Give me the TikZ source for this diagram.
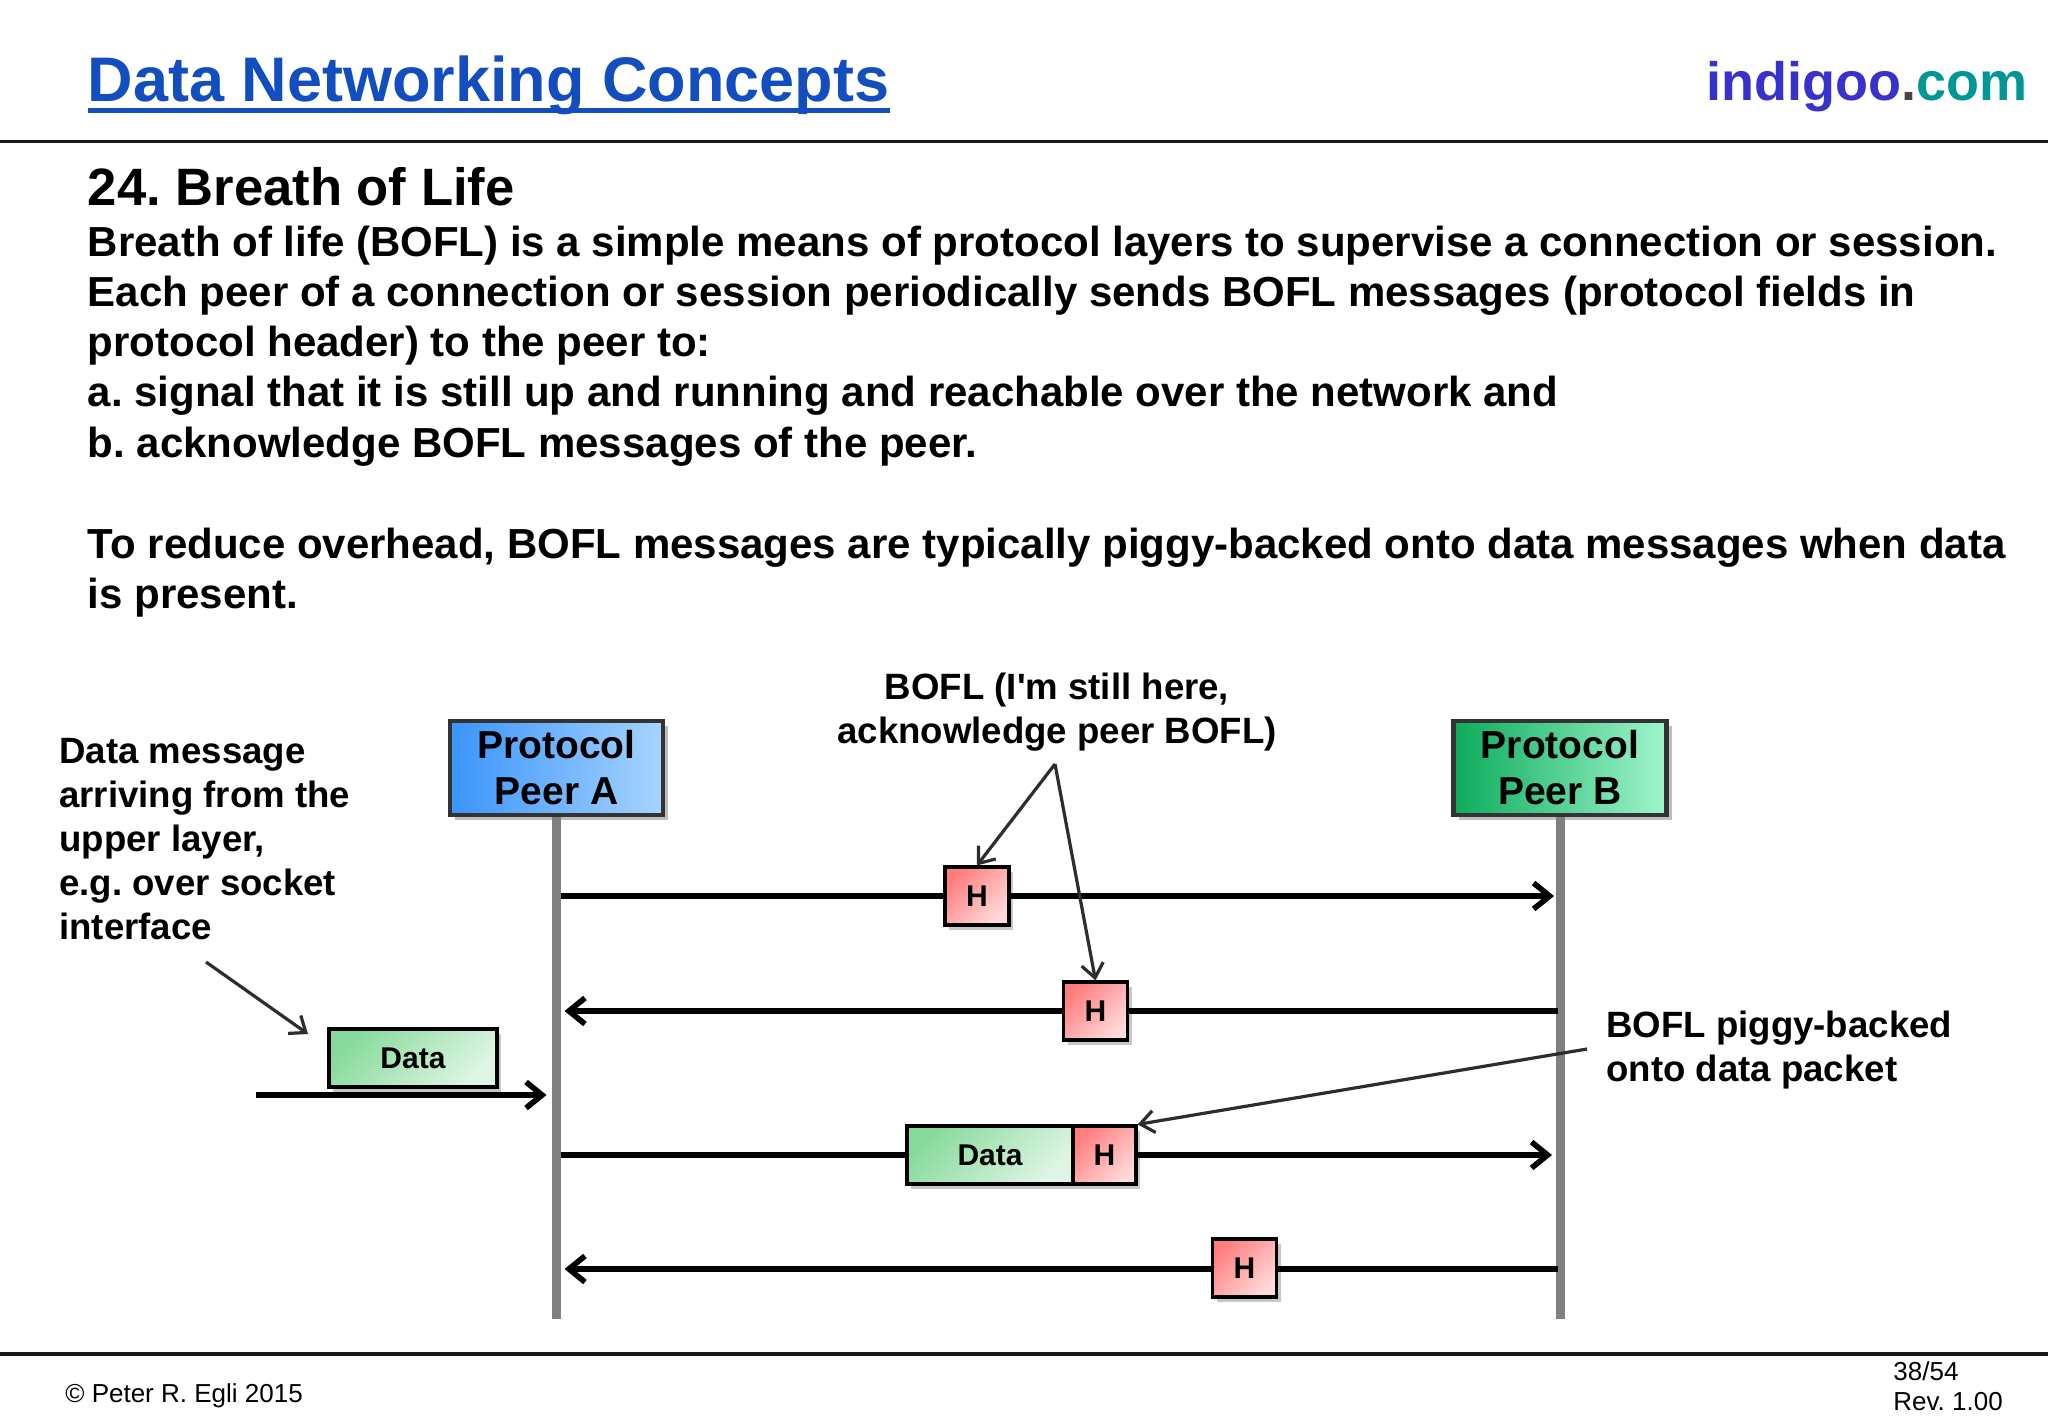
\documentclass[tikz,border=0pt]{standalone}
\usepackage{fontspec}
\setmainfont{Liberation Sans}
\usetikzlibrary{arrows.meta,shadows}
\frenchspacing

\definecolor{titleblue}{RGB}{18,78,192}
\definecolor{logoindigo}{RGB}{55,50,205}
\definecolor{logodot}{RGB}{70,70,70}
\definecolor{logoteal}{RGB}{0,150,150}
\definecolor{peerborder}{RGB}{51,51,51}
\definecolor{blueA}{RGB}{58,148,250}
\definecolor{blueM}{RGB}{72,156,252}
\definecolor{blueB}{RGB}{168,212,255}
\definecolor{greenA}{RGB}{12,172,92}
\definecolor{greenM}{RGB}{28,186,112}
\definecolor{greenB}{RGB}{160,245,205}
\definecolor{pinkA}{RGB}{255,125,125}
\definecolor{pinkB}{RGB}{255,218,218}
\definecolor{dataA}{RGB}{136,218,155}
\definecolor{dataB}{RGB}{222,245,228}
\definecolor{lifegray}{RGB}{128,128,128}
\definecolor{pointgray}{RGB}{45,45,45}

\tikzset{
  txt/.style={inner sep=0pt, anchor=base west},
  bodytext/.style={txt, font=\fontsize{21}{25}\selectfont\bfseries},
  peer/.style={draw=peerborder, line width=2.2pt, minimum width=106.5pt, minimum height=47pt,
    inner sep=0pt, align=center, font=\fontsize{19.5}{23}\selectfont\bfseries,
    drop shadow={shadow xshift=2.5pt, shadow yshift=-2.5pt, fill=black, opacity=0.25}},
  peerA/.style={peer, left color=blueA, middle color=blueM, right color=blueB},
  peerB/.style={peer, left color=greenA, middle color=greenM, right color=greenB},
  hbox/.style={draw=black, line width=1.6pt, minimum width=32pt, minimum height=29pt,
    inner sep=0pt, top color=pinkA, bottom color=pinkB, shading angle=45,
    font=\fontsize{15}{18}\selectfont\bfseries,
    drop shadow={shadow xshift=2pt, shadow yshift=-2.5pt, fill=black, opacity=0.22}},
  databox/.style={draw=black, line width=1.6pt, minimum height=29pt,
    inner sep=0pt, top color=dataA, bottom color=dataB, shading angle=45,
    font=\fontsize{15}{18}\selectfont\bfseries,
    drop shadow={shadow xshift=2pt, shadow yshift=-2.5pt, fill=black, opacity=0.22}},
  lifeline/.style={draw=lifegray, line width=4.5pt},
  msg/.style={draw=black, line width=2.8pt, -{Straight Barb[length=8pt,width=13pt]}},
  note/.style={inner sep=0pt, font=\fontsize{18.3}{22}\selectfont\bfseries},
  pointer/.style={draw=pointgray, line width=1.6pt, -{Straight Barb[length=7pt,width=11pt]}},
  rule/.style={draw=black!90, line width=1.6pt}
}

\begin{document}
\begin{tikzpicture}[x=0.5pt,y=-0.5pt]
\useasboundingbox (0,0) rectangle (2048,1418);
\fill[white] (0,0) rectangle (2048,1418);

% header
\node[txt, text=titleblue, font=\fontsize{31.5}{37}\selectfont\bfseries] (title) at (87.5,101.7) {Data Networking Concepts};
\draw[titleblue, line width=2.6pt] ([yshift=-4.6pt]title.base west) -- ([yshift=-4.6pt]title.base east);
\node[inner sep=0pt, anchor=base east, font=\fontsize{27}{32}\selectfont\bfseries] (logo) at (2028,100)
  {\textcolor{logoindigo}{indigoo}\textcolor{logodot}{.}\textcolor{logoteal}{com}};
\coordinate (rl1) at (0,141.7);
\coordinate (rr1) at (2048,141.7);
\draw[rule] (rl1) -- (rr1);

% heading and body
\node[txt, font=\fontsize{26.3}{31}\selectfont\bfseries] (heading) at (87.5,205) {24. Breath of Life};
\node[bodytext] (l1) at (87.5,256) {Breath of life (BOFL) is a simple means of protocol layers to supervise a connection or session.};
\node[bodytext] (l2) at (87.5,306) {Each peer of a connection or session periodically sends BOFL messages (protocol fields in};
\node[bodytext] (l3) at (87.5,356.5) {protocol header) to the peer to:};
\node[bodytext] (l4) at (87.5,406.5) {a. signal that it is still up and running and reachable over the network and};
\node[bodytext] (l5) at (87.5,457) {b. acknowledge BOFL messages of the peer.};
\node[bodytext] (l6) at (87.5,558) {To reduce overhead, BOFL messages are typically piggy-backed onto data messages when data};
\node[bodytext] (l7) at (87.5,608.6) {is present.};

% peers
\node[peerA] (pa) at (556.5,768) {Protocol\\Peer A};
\node[peerB] (pb) at (1560,768) {Protocol\\Peer B};
\coordinate (aend) at (556.5,1319);
\coordinate (bend) at (1560,1319);
\draw[lifeline] (pa.south) -- (aend);
\draw[lifeline] (pb.south) -- (bend);

% message coordinates on lifelines
\coordinate (a1) at (556.5,896);   \coordinate (b1) at (1560,896);
\coordinate (a2) at (556.5,1011);  \coordinate (b2) at (1560,1011);
\coordinate (a3) at (556.5,1095);  \coordinate (src) at (256,1095);
\coordinate (a4) at (556.5,1155);  \coordinate (b4) at (1560,1155);
\coordinate (a5) at (556.5,1269);  \coordinate (b5) at (1560,1269);

\draw[msg, shorten <=2pt, shorten >=3pt] (a1) -- (b1);
\draw[msg, shorten <=1pt, shorten >=4pt] (b2) -- (a2);
\draw[msg, shorten >=5pt] (src) -- (a3);
\draw[msg, shorten <=2pt, shorten >=4pt] (a4) -- (b4);
\draw[msg, shorten <=1pt, shorten >=4pt] (b5) -- (a5);

% packets
\node[hbox] (h1) at (977,896) {H};
\node[hbox] (h2) at (1095.5,1011) {H};
\node[databox, minimum width=84pt] (d3) at (413,1058) {Data};
\node[databox, minimum width=83pt] (d4) at (990,1155) {Data};
\node[hbox, minimum width=31.5pt] (h4) at (1104.5,1155) {H};
\node[hbox] (h5) at (1244.5,1268) {H};

% annotations
\node[note, align=center, anchor=base] (bofl) at (1057,743) {BOFL (I\textquotesingle m still here,\\acknowledge peer BOFL)};
\coordinate (apex) at (1055,764);
\draw[pointer] (apex) -- (h1.north);
\draw[pointer] (apex) -- (h2.north);

\node[note, align=left, anchor=base west] (datamsg) at (59,939) {Data message\\arriving from the\\upper layer,\\e.g. over socket\\interface};
\coordinate (dmtail) at (206,962);
\coordinate (dmtip) at (308,1034);
\draw[pointer] (dmtail) -- (dmtip);

\node[note, align=left, anchor=base west] (piggy) at (1606,1081) {BOFL piggy-backed\\onto data packet};
\coordinate (pbtail) at (1587,1049);
\draw[pointer] (pbtail) -- (h4.north east);

% footer
\coordinate (rl2) at (0,1354);
\coordinate (rr2) at (2048,1354);
\draw[rule] (rl2) -- (rr2);
\node[txt, font=\fontsize{13}{15}\selectfont] (copy) at (65,1402) {© Peter R. Egli 2015};
\node[txt, font=\fontsize{13}{15}\selectfont] (page) at (1893,1380) {38/54};
\node[txt, font=\fontsize{13}{15}\selectfont] (rev) at (1893,1410) {Rev. 1.00};
\end{tikzpicture}
\end{document}
